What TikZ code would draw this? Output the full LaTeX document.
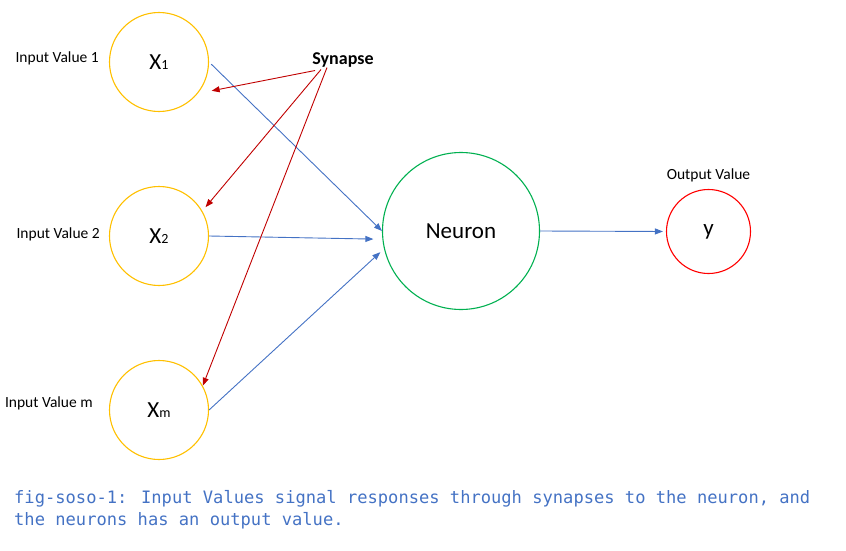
\documentclass[tikz,border=0pt]{standalone}
\usepackage{fontspec}
\setmainfont{Carlito}
\newfontfamily\capfont{DejaVu Sans Mono}
\usetikzlibrary{arrows.meta, positioning, calc}
\definecolor{nnyellow}{RGB}{255,192,0}
\definecolor{nngreen}{RGB}{0,176,80}
\definecolor{nnred}{RGB}{255,0,0}
\definecolor{nnblue}{RGB}{68,114,196}
\definecolor{nndark}{RGB}{192,0,0}
\newcommand{\sbs}[1]{{\fontsize{14}{14}\selectfont #1}}

\begin{document}
\begin{tikzpicture}[x=1pt, y=-1pt,
  inp/.style={circle, draw=nnyellow, line width=1.1pt, minimum size=99pt, inner sep=0pt, font=\fontsize{23}{23}\selectfont},
  neur/.style={circle, draw=nngreen, line width=1.1pt, minimum size=157pt, inner sep=0pt, font=\fontsize{23}{23}\selectfont},
  outp/.style={circle, draw=nnred, line width=1.1pt, minimum size=84pt, inner sep=0pt, font=\fontsize{23}{23}\selectfont},
  lbl/.style={inner sep=0pt, font=\fontsize{15.5}{15.5}\selectfont},
  syn/.style={inner sep=0pt, font=\fontsize{18}{18}\selectfont\bfseries},
  captext/.style={inner sep=0pt, align=left, text=nnblue, font=\fontsize{17.1}{22}\capfont},
  arr/.style={-{Triangle[length=8pt, width=6pt]}, line width=0.9pt, nnblue},
  sarr/.style={-{Triangle[length=8pt, width=6pt]}, line width=0.9pt, nndark}
]
\useasboundingbox (0,0) rectangle (846,551);
% inputs
\node[inp] (x1) at (159,62) {X\sbs{1}};
\node[inp] (x2) at (159,236) {X\sbs{2}};
\node[inp] (xm) at (159,410) {X\sbs{m}};
\node[lbl, left=10pt of x1, yshift=4pt] (in1) {Input Value 1};
\node[lbl, left=9pt of x2, yshift=2pt] (in2) {Input Value 2};
\node[lbl, left=16pt of xm, yshift=7pt] (inm) {Input Value m};
% neuron and output
\node[neur] (neuron) at (461,231) {Neuron};
\node[outp] (out) at (708.5,231.5) {y};
\node[lbl, above=7pt of out] (outl) {Output Value};
\node[syn] (syn) at (343,60) {Synapse};
% caption
\node[captext, anchor=north west] (caption) at (14,490) {fig-soso-1: Input Values signal responses through synapses to the neuron, and\\the neurons has an output value.};
% Arrows
\draw[arr, shorten <=3pt] (x1.east) -- (neuron.west);
\draw[arr, shorten >=9pt] (x2.east) -- (neuron.186);
\draw[arr, shorten >=5pt] (xm.east) -- (neuron.193);
\draw[arr, shorten >=3pt] (neuron.east) -- (out.west);
\draw[sarr, shorten >=14pt] ($(syn.south)+(-28,3)$) -- (x1.-39);
\draw[sarr, shorten >=5pt] ($(syn.south)+(-22,2)$) -- (x2.30);
\draw[sarr] ($(syn.south)+(-16,0)$) -- (xm.29);
\end{tikzpicture}
\end{document}
